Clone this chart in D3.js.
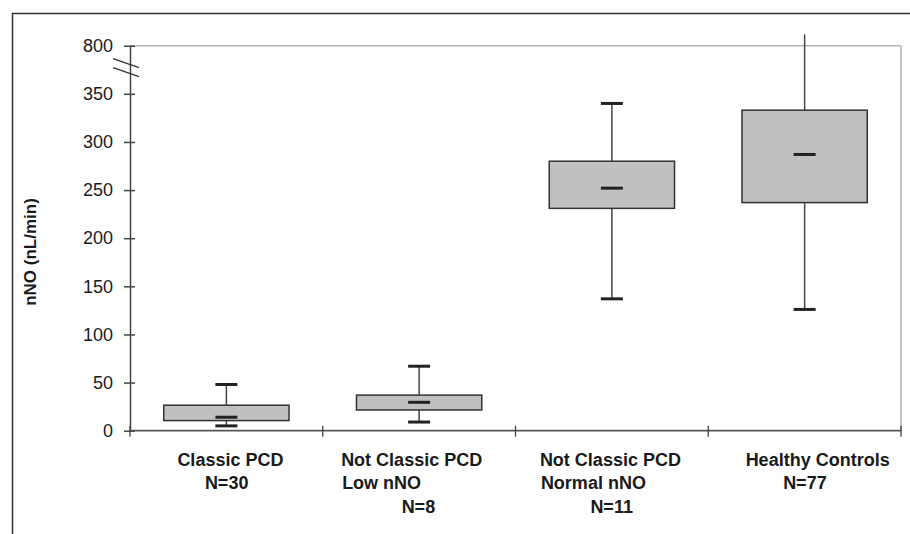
<!DOCTYPE html>
<html>
<head>
<meta charset="utf-8">
<script src="https://cdn.jsdelivr.net/npm/d3@7"></script>
<style>
  body { margin: 0; background: #fff; }
  text { font-family: "Liberation Sans", Arial, sans-serif; fill: #1a1a1a; }
</style>
</head>
<body>
<div id="chart-area"></div>
<script>
// groups and their label lines
const categories = ['Classic PCD', 'Not Classic PCD Low nNO', 'Not Classic PCD Normal nNO', 'Healthy Controls'];
const labelLines = [
  ['Classic PCD', 'N=30'],
  ['Not Classic PCD', 'Low nNO', 'N=8'],
  ['Not Classic PCD', 'Normal nNO', 'N=11'],
  ['Healthy Controls', 'N=77']
];

// box plot values (nL/min)
const mins = [5, 9, 137, 126];
const q1s = [10.5, 21.5, 231, 237];
const medians = [14, 29.5, 252, 287];
const q3s = [26.5, 37, 280, 333];
const maxs = [48, 67, 340, 905];

const yTicks = [0, 50, 100, 150, 200, 250, 300, 350, 800];

const W = 910, H = 534;
const plot = { left: 130, right: 901, top: 45.7, bottom: 430.7 };

const svg = d3.select('#chart-area').append('svg')
  .attr('width', W)
  .attr('height', H);

// outer frame (top and left visible)
svg.append('line')
  .attr('x1', 12).attr('x2', W).attr('y1', 13.5).attr('y2', 13.5)
  .attr('stroke', '#333').attr('stroke-width', 1.5);
svg.append('line')
  .attr('x1', 12.5).attr('x2', 12.5).attr('y1', 13).attr('y2', H)
  .attr('stroke', '#333').attr('stroke-width', 1.5);

// broken y scale: 350 -> 800 squeezed into one step
const y = d3.scaleLinear()
  .domain([0, 350, 800])
  .range([plot.bottom, plot.bottom - (plot.bottom - plot.top) * 7 / 8, plot.top]);

const x = d3.scaleBand()
  .domain(categories)
  .range([plot.left, plot.right])
  .padding(0);

const boxW = x.bandwidth() * 0.65;
const capW = 22;

// plot area frame (top / right)
svg.append('line')
  .attr('x1', plot.left).attr('x2', plot.right)
  .attr('y1', y(800)).attr('y2', y(800))
  .attr('stroke', '#b3b3b3').attr('stroke-width', 1.5);
svg.append('line')
  .attr('x1', plot.right).attr('x2', plot.right)
  .attr('y1', y(800)).attr('y2', plot.bottom)
  .attr('stroke', '#b3b3b3').attr('stroke-width', 1.5);

// y axis
const yAxisCall = d3.axisLeft(y)
  .tickValues(yTicks)
  .tickSizeInner(6)
  .tickSizeOuter(0)
  .tickPadding(11)
  .tickFormat(d3.format('d'));
const yAxis = svg.append('g')
  .attr('class', 'y-axis')
  .attr('transform', `translate(${plot.left}, 0)`)
  .call(yAxisCall);
yAxis.select('.domain').attr('stroke', '#444').attr('stroke-width', 1.5);
yAxis.selectAll('.tick line').attr('x1', 5).attr('stroke', '#444').attr('stroke-width', 1.5);
yAxis.selectAll('.tick text')
  .attr('font-size', '18px')
  .attr('fill', '#1a1a1a');

// axis break marks
const brk = y(800) + 13;
[0, 9].forEach(off => {
  svg.append('line')
    .attr('x1', plot.left - 17).attr('y1', brk + off)
    .attr('x2', plot.left + 9).attr('y2', brk + off + 9)
    .attr('stroke', '#333').attr('stroke-width', 1.3);
});

// x axis
svg.append('line')
  .attr('x1', plot.left).attr('x2', plot.right)
  .attr('y1', plot.bottom).attr('y2', plot.bottom)
  .attr('stroke', '#555').attr('stroke-width', 1.8);
d3.range(categories.length + 1).forEach(i => {
  const tx = plot.left + i * x.step();
  svg.append('line')
    .attr('x1', tx).attr('x2', tx)
    .attr('y1', plot.bottom - 5).attr('y2', plot.bottom + 6)
    .attr('stroke', '#444').attr('stroke-width', 1.3);
});

// category labels (Excel-style offsets per line)
const lineDx = [
  [-49, -21.5],
  [-78, -77, -17.5],
  [-72, -71, -21.5],
  [-59, -21.5]
];
labelLines.forEach((lines, i) => {
  const cx = x(categories[i]) + x.bandwidth() / 2;
  lines.forEach((t, j) => {
    svg.append('text')
      .attr('x', cx + lineDx[i][j])
      .attr('y', 466 + j * 23.3)
      .attr('font-size', '18px')
      .attr('font-weight', 'bold')
      .text(t);
  });
});

// y axis label
svg.append('text')
  .attr('transform', 'translate(36, 252) rotate(-90)')
  .attr('text-anchor', 'middle')
  .attr('font-size', '17px')
  .attr('font-weight', 'bold')
  .text('nNO (nL/min)');

// boxes
const boxes = svg.selectAll('g.box')
  .data(categories)
  .enter()
  .append('g')
  .attr('class', 'box');

boxes.each(function (cat, i) {
  const g = d3.select(this);
  const cx = x(cat) + x.bandwidth() / 2;

  // whiskers
  g.append('line')
    .attr('x1', cx).attr('x2', cx)
    .attr('y1', y(q3s[i])).attr('y2', y(maxs[i]))
    .attr('stroke', '#444').attr('stroke-width', 1.5);
  g.append('line')
    .attr('x1', cx).attr('x2', cx)
    .attr('y1', y(q1s[i])).attr('y2', y(mins[i]))
    .attr('stroke', '#444').attr('stroke-width', 1.5);

  g.append('rect')
    .attr('x', cx - boxW / 2)
    .attr('y', y(q3s[i]))
    .attr('width', boxW)
    .attr('height', y(q1s[i]) - y(q3s[i]))
    .attr('fill', '#c0c0c0')
    .attr('stroke', '#333')
    .attr('stroke-width', 1.5);

  // caps (none when beyond the axis top)
  const caps = [mins[i], medians[i]];
  if (maxs[i] <= 800) caps.push(maxs[i]);
  caps.forEach(v => {
    g.append('line')
      .attr('x1', cx - capW / 2).attr('x2', cx + capW / 2)
      .attr('y1', y(v)).attr('y2', y(v))
      .attr('stroke', '#222').attr('stroke-width', 3);
  });
});
</script>
</body>
</html>
